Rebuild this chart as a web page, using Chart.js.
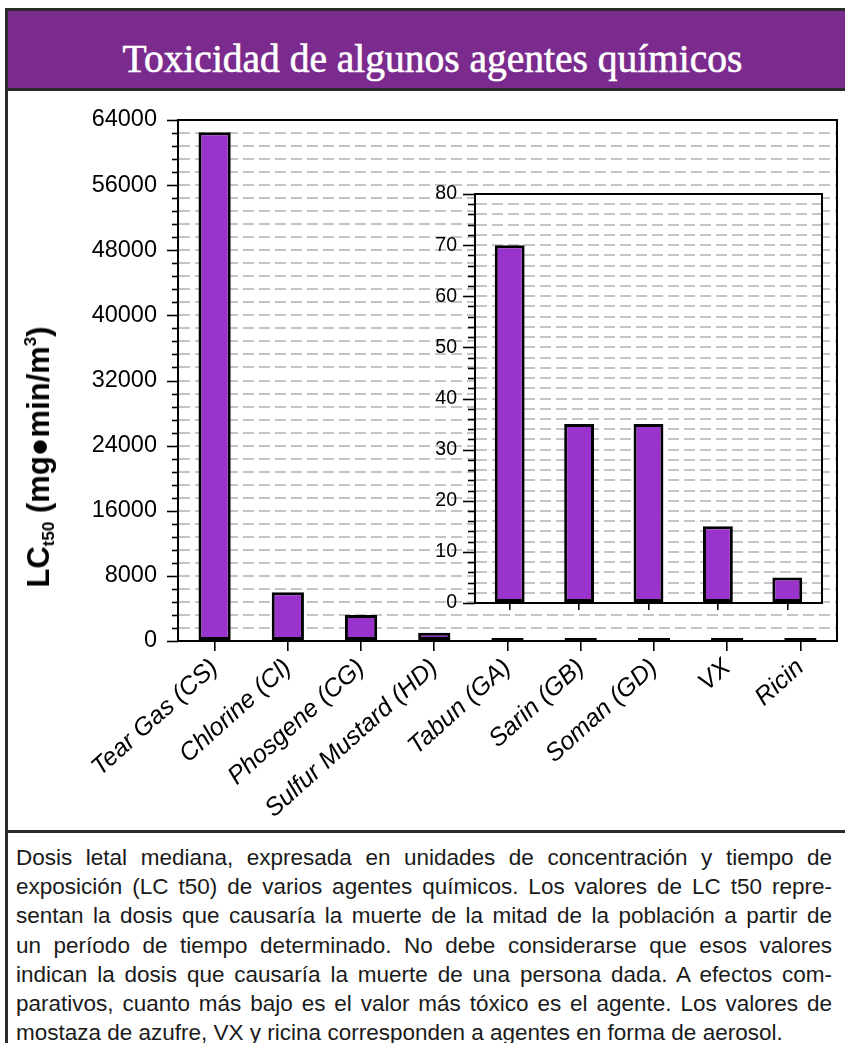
<!DOCTYPE html>
<html>
<head>
<meta charset="utf-8">
<script src="https://cdn.jsdelivr.net/npm/chart.js@4.4.1/dist/chart.umd.min.js"></script>
<style>
  html, body { margin: 0; padding: 0; background: #fff; overflow: hidden; }
  body { width: 845px; height: 1043px; position: relative; font-family: "Liberation Sans", Arial, sans-serif; }
  #frame { position: absolute; left: 5px; top: 8px; width: 900px; height: 1100px;
           border-left: 3px solid #2b2b2b; border-top: 3px solid #2b2b2b; }
  #header { position: absolute; left: 8px; top: 11px; width: 837px; height: 77px;
            background: #7b2a8d; border-bottom: 3px solid #2b2b2b; }
  #title { position: absolute; left: 14px; width: 837px; top: 41px; height: 37px; line-height: 37px;
           text-align: center; color: #fff; font-family: "Liberation Serif", serif; font-size: 37px;
           white-space: nowrap; -webkit-text-stroke: 0.6px #fff; }
  #title span { display: inline-block; }
  #divider { position: absolute; left: 8px; top: 830px; width: 837px; height: 3px; background: #2b2b2b; }
  canvas { position: absolute; left: 0; top: 92px; }
  #ytitle { position: absolute; left: 40px; top: 457px; transform: translate(-50%, -50%) rotate(-90deg);
            white-space: nowrap; font-weight: bold; font-size: 31px; color: #000; }
  #ytitle sub { font-size: 17px; vertical-align: -5px; }
  #ytitle sup { font-size: 17px; vertical-align: 13px; }
  #desc { position: absolute; left: 16px; top: 843px; width: 816px; font-size: 22.5px; color: #1a1a1a; }
  #desc div { white-space: nowrap; line-height: 29.2px; height: 29.2px; }
  #desc span { display: inline-block; }
</style>
</head>
<body>
<div id="frame"></div>
<div id="header"></div>
<div id="title"><span>Toxicidad de algunos agentes químicos</span></div>
<canvas id="main-chart" width="845" height="740"></canvas>
<canvas id="inset-chart" width="845" height="740"></canvas>
<div id="ytitle">LC<sub>t50</sub> (mg●min/m<sup>3</sup>)</div>
<div id="divider"></div>
<div id="desc">
  <div><span>Dosis letal mediana, expresada en unidades de concentración y tiempo de</span></div>
  <div><span>exposición (LC t50) de varios agentes químicos. Los valores de LC t50 repre-</span></div>
  <div><span>sentan la dosis que causaría la muerte de la mitad de la población a partir de</span></div>
  <div><span>un período de tiempo determinado. No debe considerarse que esos valores</span></div>
  <div><span>indican la dosis que causaría la muerte de una persona dada. A efectos com-</span></div>
  <div><span>parativos, cuanto más bajo es el valor más tóxico es el agente. Los valores de</span></div>
  <div class="last"><span>mostaza de azufre, VX y ricina corresponden a agentes en forma de aerosol.</span></div>
</div>
<script>
const agents = ['Tear Gas (CS)', 'Chlorine (Cl)', 'Phosgene (CG)', 'Sulfur Mustard (HD)',
                'Tabun (GA)', 'Sarin (GB)', 'Soman (GD)', 'VX', 'Ricin'];
const lct50 = [62500, 6000, 3200, 1000, 70, 35, 35, 15, 5];

// the zoomed-in box only shows the nerve agents and ricin
const nerveAgents = agents.slice(4);
const nerveLct50 = lct50.slice(4);

const mainMax = 64000, mainStep = 1600, mainLabelStep = 8000;
const insetMax = 80, insetStep = 2, insetLabelStep = 10;

Chart.defaults.font.family = '"Liberation Sans", Arial, sans-serif';
Chart.defaults.color = '#000';

// small ticks on the y axis, longer where there is a label
const tickMarks = (labelStep, majorLen, minorLen) => ({
    id: 'tickMarks',
    afterDraw(chart) {
        const ctx = chart.ctx;
        const y = chart.scales.y;
        const left = chart.chartArea.left;
        ctx.save();
        ctx.strokeStyle = '#000';
        ctx.lineWidth = 1.6;
        y.ticks.forEach(t => {
            const py = Math.round(y.getPixelForValue(t.value)) + 0.5;
            const len = t.value % labelStep === 0 ? majorLen : minorLen;
            ctx.beginPath();
            ctx.moveTo(left - len, py);
            ctx.lineTo(left, py);
            ctx.stroke();
        });
        ctx.restore();
    }
});

const boxFrame = (fillWhite) => ({
    id: 'boxFrame',
    beforeDraw(chart) {
        if (!fillWhite) return;
        const a = chart.chartArea;
        chart.ctx.save();
        chart.ctx.fillStyle = '#fff';
        chart.ctx.fillRect(a.left, a.top, a.right - a.left, a.bottom - a.top);
        chart.ctx.restore();
    },
    afterDatasetsDraw(chart) {
        const a = chart.chartArea;
        const ctx = chart.ctx;
        ctx.save();
        ctx.strokeStyle = '#000';
        ctx.lineWidth = 2;
        ctx.strokeRect(a.left, a.top, a.right - a.left, a.bottom - a.top);
        ctx.restore();
    }
});

const barStyle = {
    backgroundColor: '#9933cc',
    borderColor: '#000',
    borderWidth: 3,
    borderSkipped: false,
    categoryPercentage: 1,
};

new Chart(document.getElementById('main-chart'), {
    type: 'bar',
    data: {
        labels: agents,
        datasets: [{ data: lct50, barPercentage: 0.44, minBarLength: 3, ...barStyle }]
    },
    options: {
        responsive: false,
        animation: false,
        layout: { padding: { top: 28, right: 8, left: 0, bottom: 0 } },
        plugins: { legend: { display: false }, tooltip: { enabled: false } },
        scales: {
            x: {
                grid: { offset: false, drawOnChartArea: false, drawTicks: true, tickLength: 10, color: '#000', lineWidth: 1.6 },
                border: { display: true, color: '#000', width: 2 },
                ticks: { minRotation: 42, maxRotation: 42, autoSkip: false, padding: 2,
                         font: { size: 25, style: 'italic' } },
                afterFit: s => { s.height = 191; }
            },
            y: {
                min: 0, max: mainMax,
                grid: { color: '#c4c4c4', lineWidth: 2, drawTicks: true, tickLength: 11, tickColor: 'transparent' },
                border: { color: '#000', width: 2, dash: [11, 5] },
                ticks: { stepSize: mainStep, autoSkip: false, padding: 10, font: { size: 23.5 },
                         callback: v => (v % mainLabelStep === 0 ? String(v) : '') },
                afterFit: s => { s.width = 178; }
            }
        }
    },
    plugins: [tickMarks(mainLabelStep, 11, 6), boxFrame(false)]
});

new Chart(document.getElementById('inset-chart'), {
    type: 'bar',
    data: {
        labels: nerveAgents,
        datasets: [{ data: nerveLct50, barPercentage: 0.43, ...barStyle }]
    },
    options: {
        responsive: false,
        animation: false,
        layout: { padding: { top: 102, right: 23, left: 415, bottom: 209 } },
        plugins: { legend: { display: false }, tooltip: { enabled: false } },
        scales: {
            x: {
                grid: { offset: false, drawOnChartArea: false, drawTicks: true, tickLength: 7, color: '#000', lineWidth: 1.6 },
                border: { display: true, color: '#000', width: 2 },
                ticks: { display: false },
                afterFit: s => { s.height = 20; }
            },
            y: {
                min: 0, max: insetMax,
                grid: { color: '#c4c4c4', lineWidth: 2, drawTicks: true, tickLength: 12, tickColor: 'transparent' },
                border: { color: '#000', width: 2, dash: [11, 5] },
                ticks: { stepSize: insetStep, autoSkip: false, padding: 6, font: { size: 19.5 },
                         callback: v => (v % insetLabelStep === 0 ? String(v) : '') },
                afterFit: s => { s.width = 60; }
            }
        }
    },
    plugins: [tickMarks(insetLabelStep, 12, 7), boxFrame(true)]
});

// stretch the title to the width it has in the picture
const titleSpan = document.querySelector('#title span');
const tw = titleSpan.getBoundingClientRect().width;
document.getElementById('title').style.fontSize = (37 * 620 / tw) + 'px';

// justify each line of the note by hand
document.querySelectorAll('#desc div').forEach(div => {
    if (div.classList.contains('last')) return;
    const span = div.querySelector('span');
    const gaps = span.textContent.split(' ').length - 1;
    const w = span.getBoundingClientRect().width;
    span.style.wordSpacing = ((816 - w) / gaps) + 'px';
});
</script>
</body>
</html>
